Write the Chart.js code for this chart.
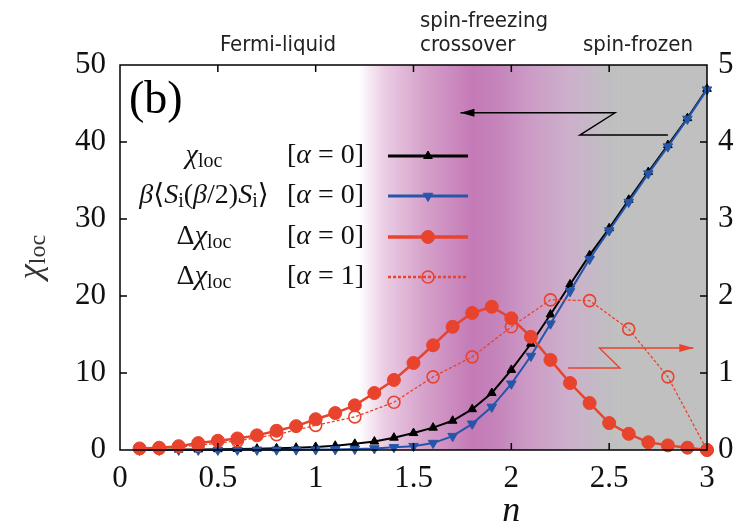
<!DOCTYPE html>
<html>
<head>
<meta charset="utf-8">
<script src="https://cdn.jsdelivr.net/npm/chart.js@4.4.1/dist/chart.umd.min.js"></script>
<style>
    html, body { margin: 0; padding: 0; background: #fff; }
    #wrap { width: 746px; height: 530px; position: relative; }
</style>
</head>
<body>
<div id="wrap"><canvas id="chartChi"></canvas></div>
<script>
// filling n (every 0.1) and the local susceptibilities
const fillings = [0.1, 0.2, 0.3, 0.4, 0.5, 0.6, 0.7, 0.8, 0.9, 1.0,
                  1.1, 1.2, 1.3, 1.4, 1.5, 1.6, 1.7, 1.8, 1.9, 2.0,
                  2.1, 2.2, 2.3, 2.4, 2.5, 2.6, 2.7, 2.8, 2.9, 3.0];
const chiLoc = [0.02, 0.03, 0.05, 0.07, 0.1, 0.13, 0.17, 0.22, 0.3, 0.4,
                0.55, 0.8, 1.1, 1.6, 2.2, 2.9, 3.8, 5.3, 7.4, 10.4,
                13.8, 17.6, 21.5, 25.3, 28.8, 32.5, 36.1, 39.6, 43.1, 46.9];
const chiBeta = [0.0, 0.0, 0.01, 0.01, 0.01, 0.02, 0.02, 0.03, 0.04, 0.05,
                 0.08, 0.12, 0.2, 0.35, 0.5, 0.9, 1.8, 3.4, 5.6, 8.6,
                 12.2, 16.4, 20.6, 24.8, 28.5, 32.2, 35.9, 39.4, 43.0, 46.8];
const deltaChiA0 = [0.02, 0.03, 0.05, 0.09, 0.12, 0.15, 0.19, 0.25, 0.31, 0.4,
                    0.48, 0.58, 0.74, 0.91, 1.13, 1.36, 1.6, 1.78, 1.86, 1.71,
                    1.47, 1.17, 0.87, 0.61, 0.35, 0.21, 0.1, 0.06, 0.03, 0.0];

// alpha = 1 run (every 0.2)
const fillingsA1 = [0.2, 0.4, 0.6, 0.8, 1.0, 1.2, 1.4, 1.6, 1.8, 2.0, 2.2, 2.4, 2.6, 2.8, 3.0];
const deltaChiA1 = [0.02, 0.06, 0.12, 0.2, 0.32, 0.43, 0.62, 0.95, 1.21, 1.6, 1.95, 1.94, 1.57, 0.95, 0.0];

const xTicks = [0, 0.5, 1, 1.5, 2, 2.5, 3];
const yLeftTicks = [0, 10, 20, 30, 40, 50];
const yRightTicks = [0, 1, 2, 3, 4, 5];

const regionNames = ['Fermi-liquid', 'spin-freezing', 'crossover', 'spin-frozen'];
const seriesNames = ['χloc [α = 0]', 'β⟨Si(β/2)Si⟩ [α = 0]', 'Δχloc [α = 0]', 'Δχloc [α = 1]'];

// arrows pointing to the axis each group belongs to (n, value)
const arrowLeftN = [2.80, 2.35, 2.53, 1.74];
const arrowLeftV = [40.9, 40.9, 43.8, 43.8];
const arrowRightN = [2.29, 2.555, 2.45, 2.93];
const arrowRightV = [1.065, 1.065, 1.325, 1.325];

// background shading across the crossover, in n
const shadeN = [1.22, 1.35, 1.55, 1.8, 1.92, 2.1, 2.3, 2.45, 2.55];
const shadeColors = ['#ffffff', '#ebcde4', '#d6a2cb', '#c47ab6', '#c583ba', '#cc9cc6', '#ccb0cc', '#c2bcc4', '#c0c0c0'];

const SERIF = '"Liberation Serif", "DejaVu Serif", serif';
const RED = '#e8432d';
const BLUE = '#2656a8';

function toPoints(xs, ys) {
    return xs.map((x, i) => ({ x: x, y: ys[i] }));
}

// draws a run of [text, kind] pieces; kind: r roman, i italic, s subscript
function drawRuns(ctx, runs, x, y, size, align) {
    const fontFor = k => k === 'i' ? `italic ${size}px ${SERIF}`
        : k === 's' ? `${Math.round(size * 0.7)}px ${SERIF}`
        : `${size}px ${SERIF}`;
    let w = 0;
    runs.forEach(([t, k]) => { ctx.font = fontFor(k); w += ctx.measureText(t).width; });
    let cx = align === 'center' ? x - w / 2 : x;
    ctx.textAlign = 'left';
    ctx.textBaseline = 'middle';
    runs.forEach(([t, k]) => {
        ctx.font = fontFor(k);
        ctx.fillText(t, cx, k === 's' ? y + size * 0.2 : y);
        cx += ctx.measureText(t).width;
    });
}

const legendRuns = [
    [['χ', 'i'], ['loc', 's']],
    [['β', 'i'], ['⟨', 'r'], ['S', 'i'], ['i', 's'], ['(', 'r'], ['β', 'i'], ['/2)', 'r'], ['S', 'i'], ['i', 's'], ['⟩', 'r']],
    [['Δ', 'r'], ['χ', 'i'], ['loc', 's']],
    [['Δ', 'r'], ['χ', 'i'], ['loc', 's']]
];
const alphaRuns = [
    [['[', 'r'], ['α', 'i'], [' = 0]', 'r']],
    [['[', 'r'], ['α', 'i'], [' = 0]', 'r']],
    [['[', 'r'], ['α', 'i'], [' = 0]', 'r']],
    [['[', 'r'], ['α', 'i'], [' = 1]', 'r']]
];

const shadePlugin = {
    id: 'shade',
    beforeDatasetsDraw(chart) {
        const { ctx, chartArea, scales } = chart;
        const x0 = scales.x.getPixelForValue(shadeN[0]);
        const x1 = scales.x.getPixelForValue(shadeN[shadeN.length - 1]);
        const g = ctx.createLinearGradient(x0, 0, x1, 0);
        shadeN.forEach((n, i) => g.addColorStop((n - shadeN[0]) / (shadeN[shadeN.length - 1] - shadeN[0]), shadeColors[i]));
        ctx.save();
        ctx.fillStyle = g;
        ctx.fillRect(x0, chartArea.top, x1 - x0, chartArea.bottom - chartArea.top);
        ctx.fillStyle = shadeColors[shadeColors.length - 1];
        ctx.fillRect(x1, chartArea.top, chartArea.right - x1, chartArea.bottom - chartArea.top);
        ctx.restore();
    }
};

function drawArrow(ctx, xs, ys, color) {
    ctx.save();
    ctx.strokeStyle = color;
    ctx.fillStyle = color;
    ctx.lineWidth = 1.4;
    ctx.beginPath();
    xs.forEach((x, i) => i ? ctx.lineTo(x, ys[i]) : ctx.moveTo(x, ys[i]));
    ctx.stroke();
    const n = xs.length - 1;
    const dir = Math.sign(xs[n] - xs[n - 1]);
    ctx.beginPath();
    ctx.moveTo(xs[n], ys[n]);
    ctx.lineTo(xs[n] - dir * 14, ys[n] - 4);
    ctx.lineTo(xs[n] - dir * 14, ys[n] + 4);
    ctx.closePath();
    ctx.fill();
    ctx.restore();
}

const decorPlugin = {
    id: 'decor',
    afterDraw(chart) {
        const { ctx, chartArea, scales } = chart;
        const { left, right, top, bottom } = chartArea;
        ctx.save();

        // frame and inward ticks
        ctx.strokeStyle = '#000';
        ctx.lineWidth = 1.5;
        ctx.strokeRect(left, top, right - left, bottom - top);
        const tl = 7;
        ctx.beginPath();
        xTicks.slice(1, -1).forEach(v => {
            const px = scales.x.getPixelForValue(v);
            ctx.moveTo(px, bottom); ctx.lineTo(px, bottom - tl);
            ctx.moveTo(px, top); ctx.lineTo(px, top + tl);
        });
        yLeftTicks.slice(1, -1).forEach(v => {
            const py = scales.y.getPixelForValue(v);
            ctx.moveTo(left, py); ctx.lineTo(left + tl, py);
        });
        yRightTicks.slice(1, -1).forEach(v => {
            const py = scales.y1.getPixelForValue(v);
            ctx.moveTo(right, py); ctx.lineTo(right - tl, py);
        });
        ctx.stroke();

        // arrows
        drawArrow(ctx, arrowLeftN.map(v => scales.x.getPixelForValue(v)),
            arrowLeftV.map(v => scales.y.getPixelForValue(v)), '#000');
        drawArrow(ctx, arrowRightN.map(v => scales.x.getPixelForValue(v)),
            arrowRightV.map(v => scales.y1.getPixelForValue(v)), RED);

        // panel tag
        ctx.fillStyle = '#000';
        ctx.font = `46px ${SERIF}`;
        ctx.textAlign = 'left';
        ctx.textBaseline = 'middle';
        ctx.fillText('(b)', 129, 101);

        // legend
        const rowY = [156, 196, 237, 277];
        chart.data.datasets.forEach((ds, i) => {
            const y = rowY[i];
            ctx.fillStyle = '#111';
            drawRuns(ctx, legendRuns[i], 204, y, 28, 'center');
            drawRuns(ctx, alphaRuns[i], 287, y, 28, 'left');
            ctx.save();
            ctx.strokeStyle = ds.borderColor;
            ctx.lineWidth = ds.borderWidth + 1;
            ctx.setLineDash(ds.borderDash || []);
            ctx.beginPath();
            ctx.moveTo(388, y); ctx.lineTo(468, y);
            ctx.stroke();
            ctx.setLineDash([]);
            ctx.fillStyle = ds.pointBackgroundColor;
            ctx.strokeStyle = ds.pointBorderColor;
            ctx.lineWidth = ds.pointBorderWidth;
            Chart.helpers.drawPoint(ctx, {
                pointStyle: ds.pointStyle, radius: ds.pointRadius,
                rotation: ds.pointRotation || 0, borderWidth: ds.pointBorderWidth
            }, 428, y);
            ctx.restore();
        });

        // regime names above the frame
        ctx.fillStyle = '#222';
        ctx.font = '22px "Liberation Sans Narrow", "DejaVu Sans Condensed", sans-serif';
        ctx.textBaseline = 'middle';
        ctx.textAlign = 'center';
        ctx.fillText(regionNames[0], 278, 45);
        ctx.textAlign = 'left';
        ctx.fillText(regionNames[1], 420, 21);
        ctx.fillText(regionNames[2], 420, 45);
        ctx.textAlign = 'center';
        ctx.fillText(regionNames[3], 638, 45);

        // axis titles
        ctx.fillStyle = '#111';
        ctx.font = `italic 36px ${SERIF}`;
        ctx.textAlign = 'center';
        ctx.fillText('n', scales.x.getPixelForValue(2), 512);
        ctx.save();
        ctx.translate(32, 257);
        ctx.rotate(-Math.PI / 2);
        ctx.fillStyle = '#333';
        drawRuns(ctx, [['χ', 'i'], ['loc', 's']], 0, 0, 34, 'center');
        ctx.restore();

        ctx.restore();
    }
};

const fmt = v => String(v);

new Chart(document.getElementById('chartChi'), {
    type: 'line',
    data: {
        datasets: [{
            label: seriesNames[0],
            data: toPoints(fillings, chiLoc),
            yAxisID: 'y',
            borderColor: '#000',
            borderWidth: 2,
            pointStyle: 'triangle',
            pointRadius: 5,
            pointBackgroundColor: '#000',
            pointBorderColor: '#000',
            pointBorderWidth: 1,
            order: 3
        }, {
            label: seriesNames[1],
            data: toPoints(fillings, chiBeta),
            yAxisID: 'y',
            borderColor: BLUE,
            borderWidth: 2,
            pointStyle: 'triangle',
            pointRotation: 180,
            rotation: 180,
            pointRadius: 5.5,
            pointBackgroundColor: BLUE,
            pointBorderColor: BLUE,
            pointBorderWidth: 1,
            order: 2
        }, {
            label: seriesNames[2],
            data: toPoints(fillings, deltaChiA0),
            yAxisID: 'y1',
            borderColor: RED,
            borderWidth: 2.5,
            pointStyle: 'circle',
            pointRadius: 6.5,
            pointBackgroundColor: RED,
            pointBorderColor: RED,
            pointBorderWidth: 1,
            order: 0
        }, {
            label: seriesNames[3],
            data: toPoints(fillingsA1, deltaChiA1),
            yAxisID: 'y1',
            borderColor: RED,
            borderWidth: 1.3,
            borderDash: [3, 2],
            pointStyle: 'circle',
            pointRadius: 6,
            pointBackgroundColor: 'rgba(0,0,0,0)',
            pointBorderColor: RED,
            pointBorderWidth: 1.6,
            order: 1
        }]
    },
    plugins: [shadePlugin, decorPlugin],
    options: {
        responsive: true,
        maintainAspectRatio: false,
        animation: false,
        devicePixelRatio: 1,
        clip: false,
        layout: { padding: { top: 65, left: 0, right: 0, bottom: 0 } },
        plugins: { legend: { display: false }, tooltip: { enabled: false } },
        elements: { line: { tension: 0 } },
        scales: {
            x: {
                type: 'linear', position: 'bottom', min: 0, max: 3,
                afterBuildTicks: s => { s.ticks = xTicks.map(v => ({ value: v })); },
                ticks: { callback: fmt, font: { family: SERIF, size: 31 }, color: '#111', padding: 10, maxRotation: 0 },
                grid: { display: false, drawTicks: false },
                border: { display: false },
                afterFit: s => { s.height = 80; }
            },
            y: {
                type: 'linear', position: 'left', min: 0, max: 50,
                afterBuildTicks: s => { s.ticks = yLeftTicks.map(v => ({ value: v })); },
                ticks: { callback: fmt, font: { family: SERIF, size: 31 }, color: '#111', padding: 14 },
                grid: { display: false, drawTicks: false },
                border: { display: false },
                afterFit: s => { s.width = 120; }
            },
            y1: {
                type: 'linear', position: 'right', min: 0, max: 5,
                afterBuildTicks: s => { s.ticks = yRightTicks.map(v => ({ value: v })); },
                ticks: { callback: fmt, font: { family: SERIF, size: 31 }, color: '#111', padding: 11 },
                grid: { display: false, drawTicks: false },
                border: { display: false },
                afterFit: s => { s.width = 39; }
            }
        }
    }
});
</script>
</body>
</html>
